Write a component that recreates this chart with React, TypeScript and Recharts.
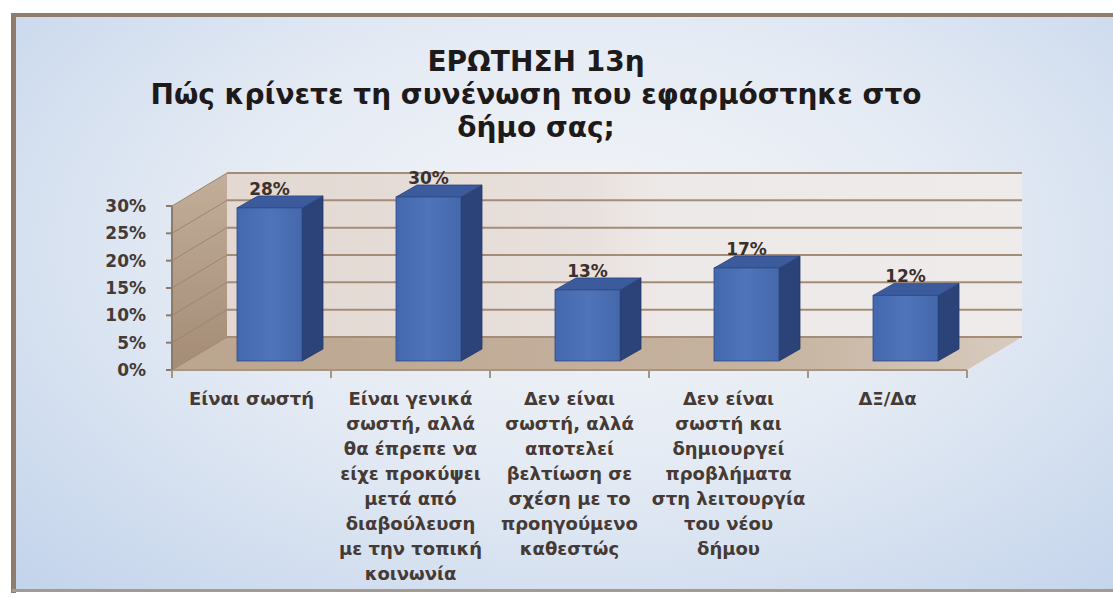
import React from 'react';
import { BarChart, Bar, XAxis, YAxis, ReferenceArea, LabelList } from 'recharts';

const TITLE_LINES = ['ΕΡΩΤΗΣΗ 13η', 'Πώς κρίνετε τη συνένωση που εφαρμόστηκε στο', 'δήμο σας;'];

// category labels, already broken into lines as in the original
const CATEGORY_LINES = [
  ['Είναι σωστή'],
  ['Είναι γενικά', 'σωστή, αλλά', 'θα έπρεπε να', 'είχε προκύψει', 'μετά από', 'διαβούλευση', 'με την τοπική', 'κοινωνία'],
  ['Δεν είναι', 'σωστή, αλλά', 'αποτελεί', 'βελτίωση σε', 'σχέση με το', 'προηγούμενο', 'καθεστώς'],
  ['Δεν είναι', 'σωστή και', 'δημιουργεί', 'προβλήματα', 'στη λειτουργία', 'του νέου', 'δήμου'],
  ['ΔΞ/Δα'],
];
const VALUES = [0.28, 0.3, 0.13, 0.17, 0.12];
const Y_TICKS = [0, 0.05, 0.1, 0.15, 0.2, 0.25, 0.3];
const Y_MAX = Y_TICKS[Y_TICKS.length - 1];

const data = CATEGORY_LINES.map((lines, i) => ({ name: lines.join(' '), value: VALUES[i] }));
const linesByName: Record<string, string[]> = {};
CATEGORY_LINES.forEach((l) => { linesByName[l.join(' ')] = l; });

// fake 3D: depth of the walls, and of the bars
const WALL_DX = 55;
const WALL_DY = -33;
const BAR_SHIFT_X = 18;
const BAR_SHIFT_Y = -9;
const BAR_DX = 21;
const BAR_DY = -12;

const FONT = '"DejaVu Sans", Verdana, sans-serif';
const TEXT = '#463a35';
const pct = (v: number) => `${Math.round(v * 100)}%`;

// back wall, side wall, floor and the wall gridlines, hung on the plot rectangle
const Walls = (props: any) => {
  const { x, y, width, height } = props;
  const b = y + height;
  return (
    <g>
      <defs>
        <linearGradient id="backWall" x1="0" y1="0" x2="1" y2="0">
          <stop offset="0%" stopColor="#e3d8d2" />
          <stop offset="45%" stopColor="#e8e0dc" />
          <stop offset="55%" stopColor="#eee9e9" />
          <stop offset="100%" stopColor="#efebeb" />
        </linearGradient>
        <linearGradient id="sideWall" x1="0" y1="0" x2="0" y2="1">
          <stop offset="0%" stopColor="#c2ae9a" />
          <stop offset="100%" stopColor="#a48c76" />
        </linearGradient>
        <linearGradient id="floor" x1="0" y1="0" x2="1" y2="0">
          <stop offset="0%" stopColor="#bba58f" />
          <stop offset="70%" stopColor="#c6b3a0" />
          <stop offset="100%" stopColor="#d8cbbe" />
        </linearGradient>
        <linearGradient id="barFront" x1="0" y1="0" x2="1" y2="0">
          <stop offset="0%" stopColor="#4468ad" />
          <stop offset="50%" stopColor="#4f74ba" />
          <stop offset="100%" stopColor="#4568ab" />
        </linearGradient>
      </defs>
      <polygon
        points={`${x + WALL_DX},${y + WALL_DY} ${x + width + WALL_DX},${y + WALL_DY} ${x + width + WALL_DX},${b + WALL_DY} ${x + WALL_DX},${b + WALL_DY}`}
        fill="url(#backWall)"
      />
      <polygon
        points={`${x},${y} ${x + WALL_DX},${y + WALL_DY} ${x + WALL_DX},${b + WALL_DY} ${x},${b}`}
        fill="url(#sideWall)"
      />
      <polygon
        points={`${x},${b} ${x + WALL_DX},${b + WALL_DY} ${x + width + WALL_DX},${b + WALL_DY} ${x + width},${b}`}
        fill="url(#floor)"
      />
      {Y_TICKS.map((t) => {
        const gy = y + height * (1 - t / Y_MAX);
        return (
          <g key={t}>
            <line x1={x} y1={gy} x2={x + WALL_DX} y2={gy + WALL_DY} stroke="#9c8571" strokeWidth={1} />
            <line x1={x + WALL_DX} y1={gy + WALL_DY} x2={x + width + WALL_DX} y2={gy + WALL_DY} stroke="#a38d79" strokeWidth={2} />
          </g>
        );
      })}
    </g>
  );
};

const Bar3D = (props: any) => {
  const { x, y, width, height } = props;
  const fx = x + BAR_SHIFT_X;
  const fy = y + BAR_SHIFT_Y;
  const top = `${fx},${fy} ${fx + width},${fy} ${fx + width + BAR_DX},${fy + BAR_DY} ${fx + BAR_DX},${fy + BAR_DY}`;
  const side = `${fx + width},${fy} ${fx + width + BAR_DX},${fy + BAR_DY} ${fx + width + BAR_DX},${fy + height + BAR_DY} ${fx + width},${fy + height}`;
  return (
    <g>
      <polygon points={side} fill="#2b4378" stroke="#223766" strokeWidth={0.8} />
      <polygon points={top} fill="#3b5b9d" stroke="#2c4680" strokeWidth={0.8} />
      <rect x={fx} y={fy} width={width} height={height} fill="url(#barFront)" stroke="#2e4b88" strokeWidth={0.8} />
    </g>
  );
};

const BarValue = (props: any) => {
  const { x, y, width, value } = props;
  return (
    <text
      x={x + BAR_SHIFT_X + width / 2}
      y={y + BAR_SHIFT_Y - 13}
      textAnchor="middle"
      fontFamily={FONT}
      fontWeight="bold"
      fontSize={17}
      fill="#3b302c"
    >
      {pct(value)}
    </text>
  );
};

const CategoryTick = (props: any) => {
  const { x, y, payload, index } = props;
  const lines = linesByName[payload.value] || [String(payload.value)];
  const half = payload.offset || 79.5;
  return (
    <g>
      <line x1={x + half} y1={y} x2={x + half} y2={y + 8} stroke="#a8957f" strokeWidth={2} />
      {index === 0 && <line x1={x - half} y1={y} x2={x - half} y2={y + 8} stroke="#a8957f" strokeWidth={2} />}
      <text x={x} y={y + 35} textAnchor="middle" fontFamily={FONT} fontWeight="bold" fontSize={18} fill={TEXT}>
        {lines.map((l, i) => (
          <tspan key={i} x={x} dy={i === 0 ? 0 : 25}>
            {l}
          </tspan>
        ))}
      </text>
    </g>
  );
};

export default function App() {
  return (
    <div style={{ position: 'absolute', left: 0, top: 0, width: 1113, height: 597, background: '#ffffff', overflow: 'hidden' }}>
      {/* slide panel */}
      <div
        style={{
          position: 'absolute',
          left: 15,
          top: 16,
          width: 1098,
          height: 574,
          background: 'radial-gradient(ellipse at 52% 40%, #f3f5f8 0%, #e5ebf4 45%, #d0ddef 78%, #c2d3eb 100%)',
        }}
      />
      <div style={{ position: 'absolute', left: 12, top: 13, width: 1101, height: 4, background: '#8e7c6c' }} />
      <div style={{ position: 'absolute', left: 11, top: 13, width: 5, height: 580, background: '#8e7c6c' }} />
      <div style={{ position: 'absolute', left: 12, top: 589, width: 1101, height: 3, background: '#a59a90' }} />

      {/* title */}
      <div
        style={{
          position: 'absolute',
          left: 0,
          top: 45,
          width: 1072,
          textAlign: 'center',
          fontFamily: FONT,
          fontWeight: 'bold',
          fontSize: 28,
          lineHeight: '33px',
          color: '#1e1a1a',
        }}
      >
        {TITLE_LINES.map((t) => (
          <div key={t}>{t}</div>
        ))}
      </div>

      <div style={{ position: 'absolute', left: 0, top: 0 }}>
        <BarChart width={1113} height={597} data={data} margin={{ top: 206, right: 146, bottom: 0, left: 0 }} barSize={65}>
          <ReferenceArea y1={0} y2={Y_MAX} shape={<Walls />} ifOverflow="visible" />
          <XAxis
            dataKey="name"
            height={227}
            interval={0}
            tickLine={false}
            tickSize={0}
            tickMargin={0}
            axisLine={{ stroke: '#a8957f', strokeWidth: 2 }}
            tick={<CategoryTick />}
          />
          <YAxis
            width={172}
            domain={[0, Y_MAX]}
            ticks={Y_TICKS}
            tickFormatter={pct}
            tickSize={6}
            tickMargin={20}
            axisLine={{ stroke: '#8c7b6c', strokeWidth: 2 }}
            tickLine={{ stroke: '#8c7b6c', strokeWidth: 2 }}
            tick={{ fontFamily: FONT, fontWeight: 'bold', fontSize: 17, fill: TEXT }}
          />
          <Bar dataKey="value" shape={<Bar3D />} isAnimationActive={false}>
            <LabelList dataKey="value" content={<BarValue />} />
          </Bar>
        </BarChart>
      </div>
    </div>
  );
}
